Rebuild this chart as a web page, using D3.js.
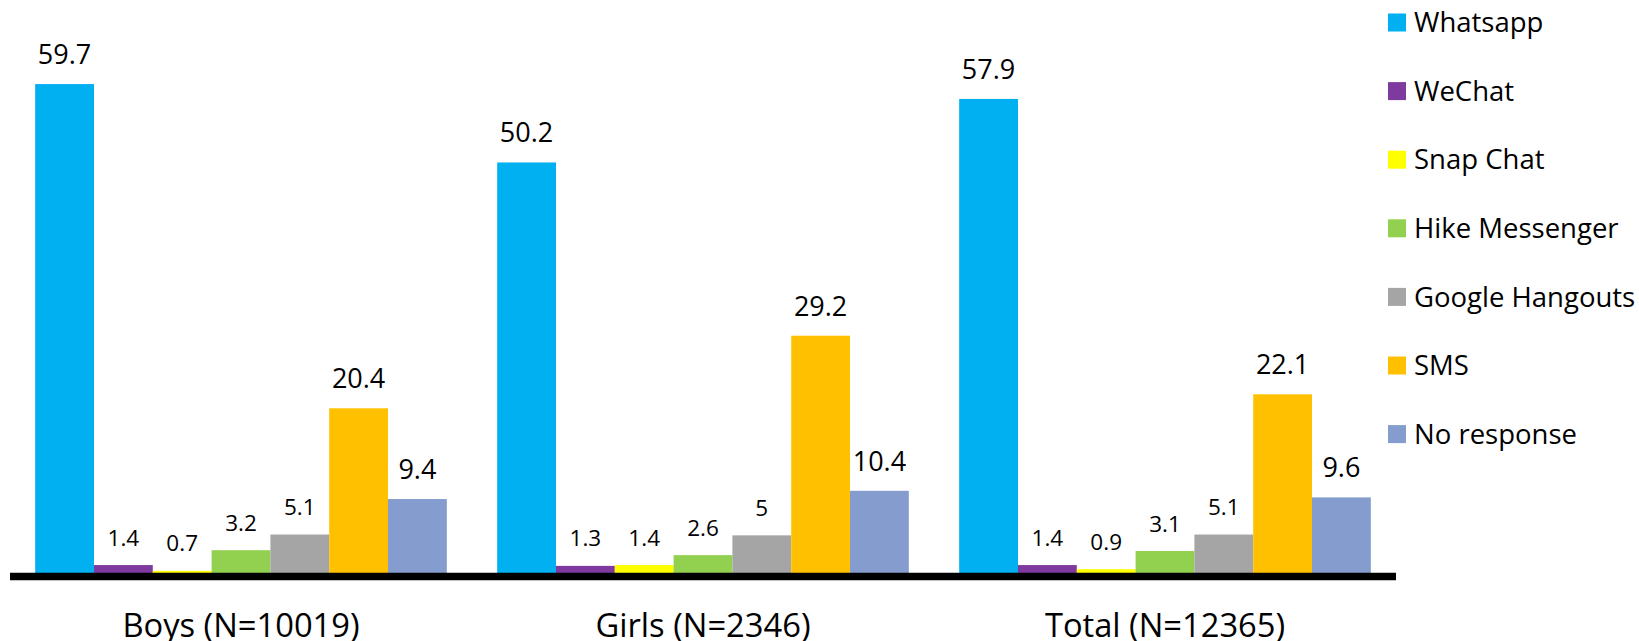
<!DOCTYPE html>
<html>
<head>
<meta charset="utf-8">
<script src="https://cdn.jsdelivr.net/npm/d3@7"></script>
<style>
  html, body { margin: 0; padding: 0; background: #fff; }
  svg { display: block; font-family: "Open Sans", sans-serif; }
</style>
</head>
<body>
<svg id="chart" width="1639" height="641"></svg>
<script>
const categories = ["Boys (N=10019)", "Girls (N=2346)", "Total (N=12365)"];
const seriesNames = ["Whatsapp", "WeChat", "Snap Chat", "Hike Messenger", "Google Hangouts", "SMS", "No response"];
const seriesColors = ["#00B0F0", "#7F3AA0", "#FFFF00", "#92D050", "#A5A5A5", "#FFC000", "#849CCE"];
const whatsapp = [59.7, 50.2, 57.9];
const wechat = [1.4, 1.3, 1.4];
const snapchat = [0.7, 1.4, 0.9];
const hike = [3.2, 2.6, 3.1];
const hangouts = [5.1, 5, 5.1];
const sms = [20.4, 29.2, 22.1];
const noResponse = [9.4, 10.4, 9.6];
const seriesValues = [whatsapp, wechat, snapchat, hike, hangouts, sms, noResponse];

const svg = d3.select("#chart");
const baseY = 576.6;

const x0 = d3.scaleBand().domain(categories).range([10, 1396]).paddingInner(0.109).paddingOuter(0.0545);
const x1 = d3.scaleBand().domain(seriesNames).range([0, x0.bandwidth()]).padding(0);
const y = d3.scaleLinear().domain([0, 70]).range([baseY, baseY - 70 * 8.25]);
const color = d3.scaleOrdinal().domain(seriesNames).range(seriesColors);

const data = [];
categories.forEach((c, ci) => {
  seriesNames.forEach((s, si) => {
    data.push({ cat: c, series: s, si, value: seriesValues[si][ci] });
  });
});

const bars = svg.append("g");
bars.selectAll("rect").data(data).enter().append("rect")
  .attr("x", d => x0(d.cat) + x1(d.series))
  .attr("y", d => y(d.value))
  .attr("width", x1.bandwidth())
  .attr("height", d => y(0) - y(d.value))
  .attr("fill", d => color(d.series));

const smallLabel = new Set([1, 2, 3, 4]);
svg.append("g").selectAll("text").data(data).enter().append("text")
  .attr("x", d => x0(d.cat) + x1(d.series) + x1.bandwidth() / 2)
  .attr("y", d => y(d.value) - (smallLabel.has(d.si) ? 19.5 : 20))
  .attr("text-anchor", "middle")
  .attr("font-size", d => smallLabel.has(d.si) ? 22.5 : 27)
  .attr("fill", "#000")
  .text(d => d.value);

// axis
const xAxis = d3.axisBottom(x0).tickSize(0).tickPadding(0);
const ax = svg.append("g").attr("transform", `translate(0,${y(0)})`).call(xAxis);
ax.select(".domain").attr("stroke", "#000").attr("stroke-width", 7.5).attr("d", "M10,0H1396");
ax.selectAll(".tick text")
  .attr("font-family", "'Open Sans', sans-serif")
  .attr("font-size", 32.7)
  .attr("fill", "#000")
  .attr("dy", 0)
  .attr("y", 60);

// legend
const legend = svg.append("g");
const lg = legend.selectAll("g").data(seriesNames).enter().append("g")
  .attr("transform", (d, i) => `translate(1388,${22.5 + i * 68.6})`);
lg.append("rect").attr("x", 0).attr("y", -9).attr("width", 18).attr("height", 18).attr("fill", d => color(d));
lg.append("text").attr("x", 26).attr("y", 0).attr("dy", "0.35em")
  .attr("font-size", 27.5).attr("fill", "#000").text(d => d);
</script>
</body>
</html>
